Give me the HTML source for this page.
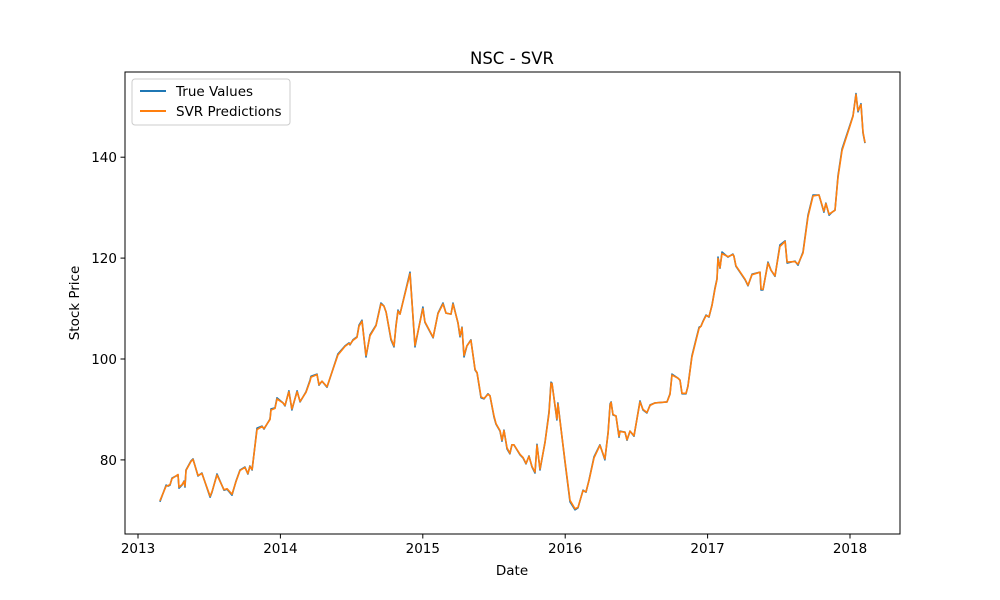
<!DOCTYPE html>
<html><head><meta charset="utf-8"><style>
html,body{margin:0;padding:0;background:#fff;}
svg{display:block;font-family:"DejaVu Sans","Liberation Sans",sans-serif;}
</style></head><body>
<svg id="chart" width="1000" height="600" viewBox="0 0 1000 600">
<rect width="1000" height="600" fill="#fff"/>
<text x="512" y="64" text-anchor="middle" font-size="16.5">NSC - SVR</text>
<text x="512" y="575" text-anchor="middle" font-size="13.5">Date</text>
<text transform="translate(79,303) rotate(-90)" text-anchor="middle" font-size="13.5">Stock Price</text>
<g id="ticks"></g>
<g id="series"></g>
<rect x="125" y="72" width="775" height="462" fill="none" stroke="#000" stroke-width="1"/>
<g>
<rect x="132" y="79" width="158" height="46" rx="3" fill="#fff" fill-opacity="0.8" stroke="#ccc"/>
<line x1="140" y1="91" x2="166" y2="91" stroke="#1f77b4" stroke-width="2"/>
<text x="176" y="96" font-size="13.5">True Values</text>
<line x1="140" y1="111" x2="166" y2="111" stroke="#ff7f0e" stroke-width="2"/>
<text x="176" y="116" font-size="13.5">SVR Predictions</text>
</g>
</svg>
<script>
const dates=[2013.154,2013.197,2013.211,2013.225,2013.239,2013.281,2013.288,2013.309,2013.323,2013.330,2013.337,2013.372,2013.386,2013.421,2013.449,2013.506,2013.520,2013.555,2013.604,2013.625,2013.660,2013.688,2013.716,2013.751,2013.772,2013.786,2013.801,2013.836,2013.871,2013.885,2013.927,2013.934,2013.962,2013.976,2014.018,2014.032,2014.060,2014.081,2014.117,2014.138,2014.180,2014.208,2014.215,2014.257,2014.271,2014.292,2014.327,2014.404,2014.454,2014.482,2014.489,2014.510,2014.538,2014.552,2014.573,2014.601,2014.629,2014.671,2014.706,2014.727,2014.742,2014.777,2014.798,2014.812,2014.826,2014.840,2014.910,2014.945,2015.001,2015.015,2015.072,2015.107,2015.142,2015.163,2015.198,2015.212,2015.247,2015.261,2015.275,2015.289,2015.310,2015.338,2015.367,2015.381,2015.409,2015.430,2015.458,2015.472,2015.500,2015.514,2015.542,2015.556,2015.570,2015.591,2015.612,2015.626,2015.640,2015.683,2015.704,2015.725,2015.746,2015.767,2015.788,2015.802,2015.823,2015.858,2015.886,2015.900,2015.907,2015.942,2015.949,2015.999,2016.034,2016.069,2016.090,2016.125,2016.146,2016.167,2016.202,2016.244,2016.279,2016.301,2016.315,2016.322,2016.336,2016.357,2016.378,2016.385,2016.420,2016.434,2016.455,2016.483,2016.525,2016.546,2016.574,2016.596,2016.631,2016.715,2016.736,2016.750,2016.792,2016.806,2016.820,2016.848,2016.862,2016.890,2016.918,2016.940,2016.954,2016.968,2016.989,2017.010,2017.031,2017.052,2017.066,2017.073,2017.087,2017.101,2017.143,2017.178,2017.185,2017.199,2017.263,2017.284,2017.312,2017.368,2017.375,2017.389,2017.424,2017.445,2017.473,2017.508,2017.544,2017.558,2017.614,2017.635,2017.670,2017.705,2017.740,2017.782,2017.817,2017.831,2017.853,2017.874,2017.895,2017.916,2017.944,2018.000,2018.021,2018.042,2018.056,2018.077,2018.091,2018.105];
const trueValues=[71.7,75.0,74.8,75.0,76.4,77.0,74.4,75.0,75.8,74.6,78.0,79.8,80.2,76.8,77.4,72.6,73.6,77.2,74.0,74.2,73.0,75.8,78.0,78.6,77.2,78.8,78.0,86.3,86.7,86.1,88.1,90.1,90.3,92.3,91.3,90.7,93.7,89.9,93.7,91.5,93.5,95.8,96.6,97.0,94.8,95.6,94.4,101.0,102.6,103.2,102.8,103.8,104.4,106.7,107.7,100.4,104.8,106.7,111.1,110.5,109.3,103.8,102.4,106.7,109.7,108.9,117.2,102.4,110.3,107.3,104.2,109.1,111.1,109.1,108.9,111.1,107.1,104.4,106.3,100.4,102.6,103.8,97.8,97.2,92.3,92.1,93.1,92.7,88.5,87.1,85.7,83.7,85.9,82.2,81.2,83.0,83.0,81.0,80.4,79.2,80.8,78.6,77.4,83.1,78.0,83.5,89.5,95.4,95.2,87.9,91.3,79.4,71.7,70.1,70.5,74.0,73.6,76.0,80.6,83.0,80.0,85.5,91.1,91.5,88.9,88.7,84.5,85.7,85.5,83.9,85.7,84.7,91.7,89.9,89.3,90.9,91.3,91.5,93.1,97.0,96.2,95.8,93.1,93.1,94.6,100.6,103.8,106.3,106.5,107.5,108.7,108.3,110.7,114.1,115.9,120.2,118.0,121.2,120.2,120.8,120.4,118.4,115.7,114.5,116.8,117.2,113.7,113.7,119.2,117.6,116.4,122.6,123.4,119.0,119.4,118.6,121.2,128.5,132.5,132.5,129.1,130.9,128.5,129.1,129.5,136.3,141.6,146.4,148.2,152.6,149.0,150.6,144.8,142.8];
const svrPredictions=[71.9,74.8,74.9,75.1,76.3,77.1,74.6,75.1,75.7,74.8,77.9,79.7,80.1,76.9,77.3,72.8,73.7,77.0,74.1,74.3,73.2,75.7,77.9,78.5,77.3,78.7,78.1,86.0,86.6,86.2,88.0,89.9,90.2,92.1,91.3,90.8,93.5,90.1,93.5,91.6,93.4,95.6,96.4,96.9,94.9,95.6,94.5,100.8,102.5,103.1,102.9,103.7,104.3,106.5,107.5,100.7,104.6,106.6,110.9,110.5,109.3,104.0,102.6,106.5,109.5,108.9,116.9,102.7,110.0,107.4,104.3,109.0,110.9,109.1,108.9,110.9,107.2,104.6,106.2,100.7,102.6,103.7,97.9,97.3,92.5,92.2,93.0,92.7,88.7,87.2,85.8,83.9,85.8,82.4,81.3,83.0,83.0,81.1,80.5,79.3,80.7,78.7,77.6,82.9,78.2,83.4,89.2,95.2,95.1,88.1,91.1,79.6,72.0,70.3,70.6,73.9,73.7,75.9,80.4,82.9,80.2,85.3,90.9,91.4,89.0,88.7,84.7,85.6,85.5,84.0,85.7,84.8,91.5,90.0,89.4,90.8,91.3,91.5,93.0,96.8,96.2,95.8,93.2,93.2,94.5,100.4,103.6,106.1,106.5,107.4,108.6,108.4,110.6,113.9,115.8,119.9,118.1,120.9,120.3,120.7,120.4,118.5,115.8,114.6,116.7,117.2,113.9,113.8,119.0,117.6,116.5,122.3,123.3,119.2,119.3,118.8,121.0,128.2,132.3,132.5,129.3,130.8,128.7,129.1,129.5,136.0,141.3,146.2,148.1,152.4,149.2,150.4,145.0,142.9];
const xTicks=[2013,2014,2015,2016,2017,2018];
const yTicks=[80,100,120,140];

const NS="http://www.w3.org/2000/svg";
const xs=y=>138+(y-2013)*142.4;
const ys=v=>359-(v-100)*5.045;
const tg=document.getElementById('ticks');
for(const t of xTicks){
  const g=document.createElementNS(NS,'g');
  
  
  const X=xs(t);
  g.innerHTML=`<line x1="${X}" y1="534" x2="${X}" y2="538.5" stroke="#000"/><text x="${X}" y="553" text-anchor="middle" font-size="13.5">${t}</text>`;
  tg.appendChild(g);
}
for(const t of yTicks){
  const g=document.createElementNS(NS,'g');
  
  
  const Y=ys(t);
  g.innerHTML=`<line x1="120.5" y1="${Y}" x2="125" y2="${Y}" stroke="#000"/><text x="117" y="${Y+5}" text-anchor="end" font-size="13.5">${t}</text>`;
  tg.appendChild(g);
}
const sg=document.getElementById('series');
function line(vals,color,name){
  const p=document.createElementNS(NS,'polyline');
  p.setAttribute('points',vals.map((v,i)=>xs(dates[i]).toFixed(1)+','+ys(v).toFixed(1)).join(' '));
  p.setAttribute('fill','none');
  p.setAttribute('stroke',color);
  p.setAttribute('stroke-width','1.6');
  p.setAttribute('stroke-linejoin','round');
  
  
  sg.appendChild(p);
}
line(trueValues,'#1f77b4','true-values-line');
line(svrPredictions,'#ff7f0e','svr-predictions-line');
</script>
</body></html>
